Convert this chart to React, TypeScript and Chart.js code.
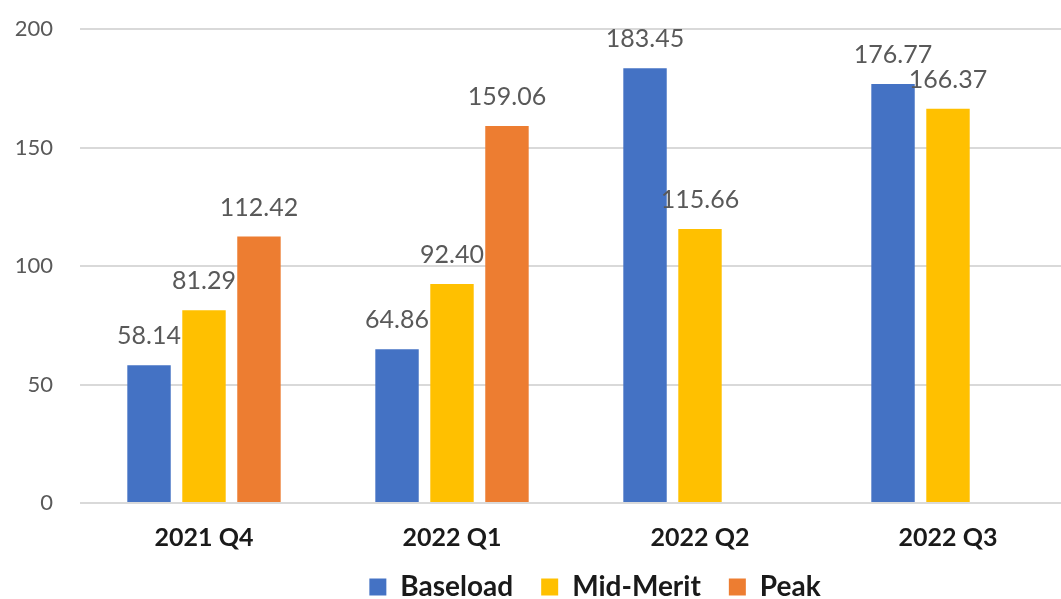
import React, { useEffect, useRef } from "react";
import { Chart, registerables } from "chart.js";
Chart.register(...registerables);

const categories = ["2021 Q4", "2022 Q1", "2022 Q2", "2022 Q3"];
const seriesNames = ["Baseload", "Mid-Merit", "Peak"];
const baseload = [58.14, 64.86, 183.45, 176.77];
const midMerit = [81.29, 92.4, 115.66, 166.37];
const peak: (number | null)[] = [112.42, 159.06, null, null];
const seriesColors = ["#4472C4", "#FFC000", "#ED7D31"];
const yMin = 0;
const yMax = 200;
const yStep = 50;

const FONT = "Lato, 'Liberation Sans', sans-serif";

const valueLabels = {
  id: "valueLabels",
  afterDatasetsDraw(chart: any) {
    const ctx = chart.ctx;
    ctx.save();
    ctx.font = `25px ${FONT}`;
    ctx.fillStyle = "#595959";
    ctx.textAlign = "center";
    ctx.textBaseline = "alphabetic";
    chart.data.datasets.forEach((ds: any, i: number) => {
      const meta = chart.getDatasetMeta(i);
      meta.data.forEach((bar: any, j: number) => {
        const v = ds.data[j];
        if (v == null) return;
        ctx.fillText(v.toFixed(2), bar.x, bar.y - 21);
      });
    });
    ctx.restore();
  },
};

const legendPlace = {
  id: "legendPlace",
  afterLayout(chart: any) {
    const l = chart.legend;
    if (!l) return;
    const h = l.bottom - l.top;
    const top = 545;
    l.top = top;
    l.bottom = top + h;
    const dx = 595 - (l.left + l.right) / 2;
    l.left += dx;
    l.right += dx;
  },
};

export default function App() {
  const ref = useRef<HTMLCanvasElement>(null);
  useEffect(() => {
    if (!ref.current) return;
    const chart = new Chart(ref.current, {
      type: "bar",
      data: {
        labels: categories,
        datasets: [baseload, midMerit, peak].map((d, i) => ({
          label: seriesNames[i],
          data: d,
          backgroundColor: seriesColors[i],
          borderWidth: 0,
          categoryPercentage: 0.665,
          barPercentage: 0.79,
        })),
      },
      options: {
        animation: false,
        responsive: false,
        devicePixelRatio: 1,
        layout: { padding: { top: 29, left: 0, right: 0, bottom: -40 } },
        plugins: {
          tooltip: { enabled: false },
          title: { display: false },
          legend: {
            position: "bottom",
            labels: {
              boxWidth: 17,
              boxHeight: 17,
              padding: 28,
              color: "#1a1a1a",
              font: { family: FONT, size: 28, weight: "bold" },
            },
          },
        },
        scales: {
          x: {
            grid: { display: false, drawTicks: false },
            border: { display: false },
            ticks: {
              color: "#1a1a1a",
              padding: 20,
              font: { family: FONT, size: 25, weight: "bold" },
            },
          },
          y: {
            min: yMin,
            max: yMax,
            grid: { color: "#d9d9d9", lineWidth: 2, drawTicks: false },
            border: { display: false },
            ticks: {
              stepSize: yStep,
              color: "#595959",
              padding: 27,
              font: { family: FONT, size: 22 },
            },
            afterFit: (s: any) => {
              s.width = 80;
              s.paddingTop = 0;
              s.paddingBottom = 0;
            },
          },
        },
      },
      plugins: [valueLabels, legendPlace],
    } as any);
    return () => chart.destroy();
  }, []);
  return (
    <div
      style={{
        position: "fixed",
        left: 0,
        top: 0,
        width: 1061,
        height: 599,
        overflow: "hidden",
        background: "#fff",
      }}
    >
      <canvas ref={ref} width={1072} height={599} style={{ display: "block" }} />
    </div>
  );
}
